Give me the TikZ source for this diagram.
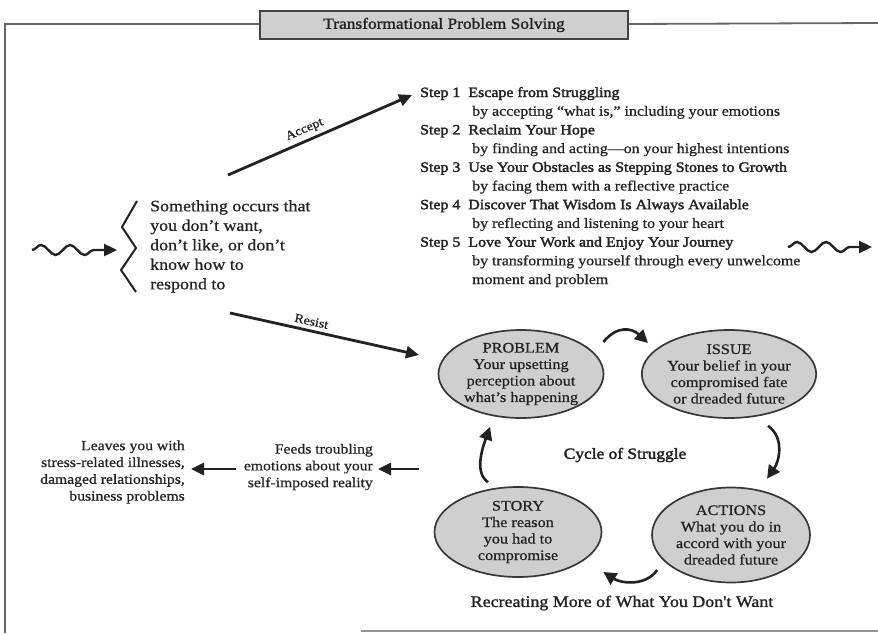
\documentclass[tikz,border=0pt]{standalone}
\usepackage{fontspec}
\setmainfont{Liberation Serif}[FakeStretch=1.12, FakeBold=0.7]
\newfontfamily\headfont{Liberation Serif}[FakeStretch=1.12, FakeBold=2.2]
\newfontfamily\midfont{Liberation Serif}[FakeStretch=1.12, FakeBold=1.4]
\usetikzlibrary{arrows.meta,decorations.pathmorphing,shapes.geometric,calc}

\definecolor{ink}{HTML}{222222}
\definecolor{shade}{HTML}{CFCFCF}
\definecolor{framegray}{HTML}{666666}

\begin{document}
\begin{tikzpicture}[x=1pt,y=-1pt,
  every node/.style={text=ink, inner sep=0pt},
  bigarrow/.style={draw=ink, line width=2.8pt, -{Triangle[length=13pt,width=12pt]}},
  cyclearrow/.style={draw=ink, line width=2.6pt, -{Triangle[length=13pt,width=13pt]}},
  wavy/.style={draw=ink, line width=2.4pt, decorate,
    decoration={snake, amplitude=5pt, segment length=29pt, post length=12pt},
    -{Triangle[length=13pt,width=12pt]}},
  phase/.style={ellipse, draw=ink!90, line width=1.7pt, fill=shade,
    minimum width=162pt, minimum height=90pt, align=center,
    font=\fontsize{14.5}{16.5}\selectfont},
  body/.style={font=\fontsize{16}{19.5}\selectfont, align=left},
  side/.style={font=\fontsize{14}{16.8}\selectfont, align=right},
  steptext/.style={font=\fontsize{14.2}{18.7}\selectfont, anchor=base west},
  stephead/.style={steptext, font=\fontsize{14.2}{18.7}\headfont},
  armlabel/.style={font=\fontsize{12.5}{14}\selectfont, sloped, above=4pt},
]
\useasboundingbox (0,0) rectangle (878,633);

% frame
\draw[framegray, line width=1.8pt] (5,633) -- (5,24) -- (260,24);
\draw[framegray, line width=1.8pt] (628,24) -- (878,23);
\draw[framegray!70, line width=1.2pt] (361,631) -- (878,631);

% title plate
\node[draw=ink!85, line width=1.6pt, fill=shade, minimum width=368pt, minimum height=28pt,
  font=\fontsize{15.5}{18}\midfont] (title) at (444,25) {Transformational Problem Solving};

% incoming event
\coordinate (inStart) at (32,250);
\coordinate (inEnd) at (117,250);
\draw[wavy] (inStart) -- (inEnd);
\draw[ink, line width=2pt, line join=round] (137,201) -- (122,227) -- (136,248) -- (121,270) -- (136,292);
\node[body, anchor=north west] (event) at (150,200)
  {Something occurs that\\you don't want,\\don't like, or don't\\know how to\\respond to};

% accept branch
\coordinate (acStart) at (228,175);
\coordinate (acEnd) at (412,95);
\draw[bigarrow] (acStart) -- node[armlabel, pos=0.44] {Accept} (acEnd);

% five steps
\node[stephead] (s1) at (420,97) {Step 1\hspace{8pt}Escape from Struggling};
\node[steptext] (s1b) at (472,115.7) {by accepting “what is,” including your emotions};
\node[stephead] (s2) at (420,134.4) {Step 2\hspace{8pt}Reclaim Your Hope};
\node[steptext] (s2b) at (472,153.1) {by finding and acting—on your highest intentions};
\node[stephead] (s3) at (420,171.8) {Step 3\hspace{8pt}Use Your Obstacles as Stepping Stones to Growth};
\node[steptext] (s3b) at (472,190.5) {by facing them with a reflective practice};
\node[stephead] (s4) at (420,209.2) {Step 4\hspace{8pt}Discover That Wisdom Is Always Available};
\node[steptext] (s4b) at (472,227.9) {by reflecting and listening to your heart};
\node[stephead] (s5) at (420,246.6) {Step 5\hspace{8pt}Love Your Work and Enjoy Your Journey};
\node[steptext] (s5b) at (472,265.3) {by transforming yourself through every unwelcome};
\node[steptext] (s5c) at (472,284) {moment and problem};

% outgoing event
\coordinate (outStart) at (788,247);
\coordinate (outEnd) at (872,247);
\draw[wavy] (outStart) -- (outEnd);

% resist branch
\coordinate (reStart) at (230,313);
\coordinate (reEnd) at (419,355);
\draw[bigarrow] (reStart) -- node[armlabel, pos=0.42] {Resist} (reEnd);

% cycle of struggle
\node[phase, minimum width=165pt, minimum height=88pt] (problem) at (521,374)
  {PROBLEM\\Your upsetting\\perception about\\what's happening};
\node[phase, minimum width=158pt, minimum height=88pt] (issue) at (729,374)
  {ISSUE\\Your belief in your\\compromised fate\\or dreaded future};
\node[phase, minimum width=158pt, minimum height=95pt] (actions) at (731,535)
  {ACTIONS\\What you do in\\accord with your\\dreaded future};
\node[phase, minimum width=167pt, minimum height=90pt] (story) at (518,532)
  {STORY\\The reason\\you had to\\compromise};

\node[font=\fontsize{15.5}{18}\headfont] (cycle) at (625,455) {Cycle of Struggle};
\node[font=\fontsize{16}{19}\midfont] (recreate) at (622,603) {Recreating More of What You Don't Want};

\draw[cyclearrow] ([shift={(-1,-32)}]problem.east) .. controls +(14,-17) and +(-16,-15) .. ([shift={(7,-31)}]issue.west);
\draw[cyclearrow] ([shift={(39,7)}]issue.south) .. controls +(17,12) and +(12,-17) .. ([shift={(36,-8)}]actions.north);
\draw[cyclearrow] ([shift={(6,35)}]actions.west) .. controls +(-12,17) and +(17,11) .. ([shift={(1,40)}]story.east);
\draw[cyclearrow] ([shift={(-30,-4)}]story.north) .. controls +(-15,-10) and +(-6,17) .. ([shift={(-31,8)}]problem.south);

% consequences
\coordinate (fbStart) at (419,469);
\node[side, anchor=east] (feeds) at (373,467)
  {Feeds troubling\\emotions about your\\self-imposed reality};
\node[side, anchor=east] (leaves) at (185,472)
  {Leaves you with\\stress-related illnesses,\\damaged relationships,\\business problems};
\draw[bigarrow] (fbStart) -- ([xshift=5pt]feeds.east |- fbStart);
\draw[bigarrow] ([xshift=-8pt]feeds.west |- fbStart) -- ([xshift=6pt]leaves.east |- fbStart);
\end{tikzpicture}
\end{document}
